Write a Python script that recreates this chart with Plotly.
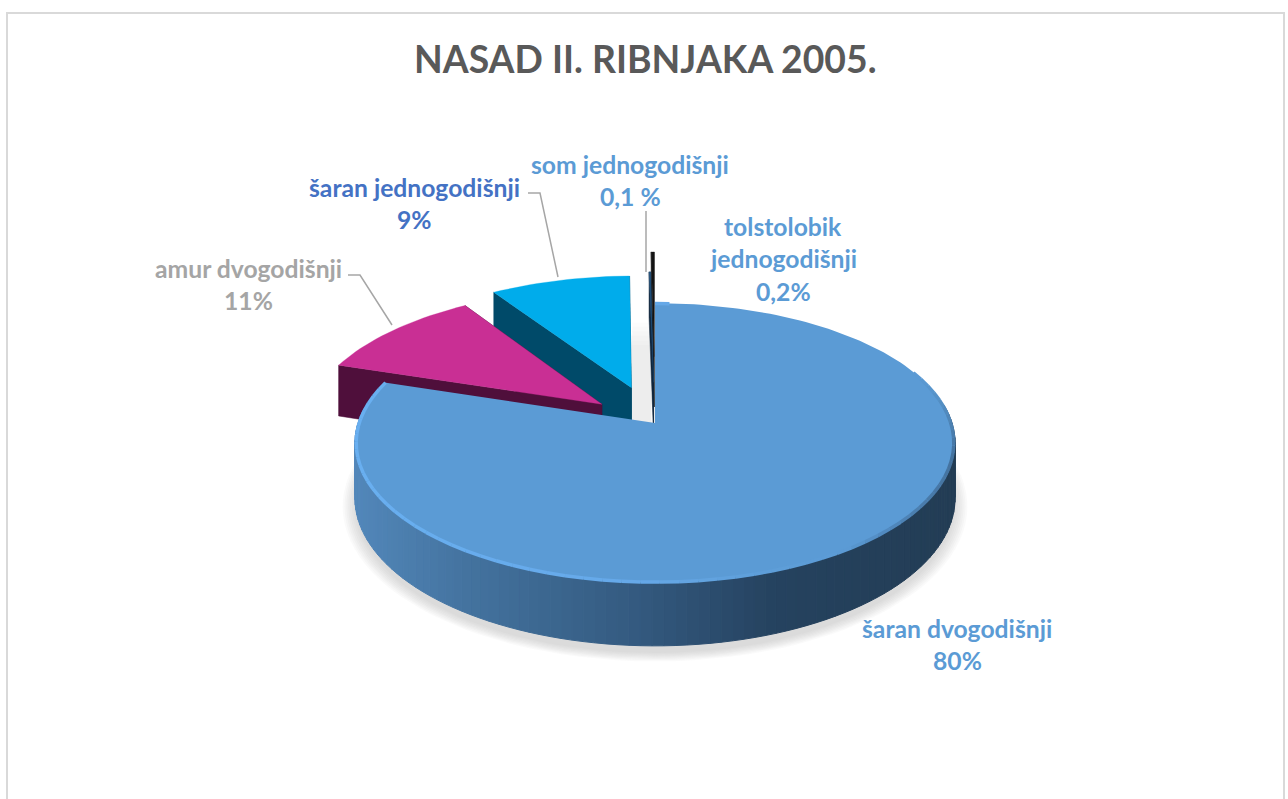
import math
import plotly.graph_objects as go

# data
categories = ['šaran dvogodišnji', 'amur dvogodišnji', 'šaran jednogodišnji', 'som jednogodišnji', 'tolstolobik jednogodišnji']
values = [80, 10.8, 8.9, 0.1, 0.2]
value_labels = ['80%', '11%', '9%', '0,1 %', '0,2%']
title_text = 'NASAD II. RIBNJAKA 2005.'

explode = [0, 0.23, 0.28, 0.31, 0.52]
top_colors = ['#5B9BD5', '#C92F94', '#00ACEB', '#1F4E79', '#141414']
side_colors = ['#2B4C6E', '#4F0F3B', '#004A69', '#10263D', '#1A1A1A']
label_colors = ['#5B9BD5', '#A5A5A5', '#4472C4', '#5B9BD5', '#5B9BD5']

# label lines: category split for display, centre x, first line y
label_lines = [['šaran dvogodišnji'], ['amur dvogodišnji'], ['šaran jednogodišnji'], ['som jednogodišnji'], ['tolstolobik', 'jednogodišnji']]
label_x = [957, 248, 414, 630, 783]
label_y = [628, 268, 187, 164, 226]
line_step = 32.5

leaders = [
    ([348, 360, 392], [275, 275, 325]),
    ([528, 540, 558], [193, 193, 277]),
    ([646, 646], [211, 272]),
]

# pie projection (perspective tilt), all in page pixels
CX, CY = 655, 423
A, B, H, K = 297, 137, 54, 0.143


def project(x, y, z=0.0):
    d = 1 - K * y
    return CX + A * x / d, CY + (B * y + H * z) / d


def wedge_xy(ox, oy, t, r=1.0):
    return ox + r * math.sin(t), oy - r * math.cos(t)


def hex_rgb(c):
    return [int(c[i:i + 2], 16) for i in (1, 3, 5)]


def mix(ca, cb, f):
    ra, rb = hex_rgb(ca), hex_rgb(cb)
    return '#%02X%02X%02X' % tuple(round(ra[i] + (rb[i] - ra[i]) * f) for i in range(3))


def lerp_stops(stops, v):
    if v <= stops[0][0]:
        return stops[0][1]
    for (a, ca), (b, cb) in zip(stops, stops[1:]):
        if v <= b:
            return mix(ca, cb, (v - a) / (b - a))
    return stops[-1][1]


fig = go.Figure()


def poly(points, color, line=0.0):
    fig.add_trace(go.Scatter(x=[p[0] for p in points] + [points[0][0]], y=[p[1] for p in points] + [points[0][1]],
                             mode='lines', fill='toself', fillcolor=color,
                             line=dict(color=color, width=line), hoverinfo='skip', showlegend=False))


total = sum(values)
angles = []
run = 0
for v in values:
    angles.append((run / total * 2 * math.pi, (run + v) / total * 2 * math.pi))
    run += v

# soft shadows under the big slice
full = [2 * math.pi * i / 120 for i in range(120)]
for s in range(8):
    grow = 1.04 - s * 0.006
    poly([project(math.sin(t) * grow, -math.cos(t) * grow, 1.12) for t in full], 'rgba(150,150,150,0.05)')

# keep that shadow out of the gap behind the thin slices
poly([project(math.sin(t), -math.cos(t)) for t in full], 'white')

# thin slice shadow in the gap, fading upwards
for s in range(6):
    top = -0.82 + s * 0.04
    poly([project(-0.085, -0.08, 0.3), project(-0.085, top, 0), project(-0.012, top, 0), project(-0.012, -0.02, 0.2)],
         'rgba(170,170,170,0.035)')


def draw_exploded(i):
    t0, t1 = angles[i]
    mid = (t0 + t1) / 2
    ox, oy = explode[i] * math.sin(mid), -explode[i] * math.cos(mid)
    n = max(2, int((t1 - t0) / 0.03))
    rim = [wedge_xy(ox, oy, t0 + (t1 - t0) * j / n) for j in range(n + 1)]
    a, c0, c1 = (ox, oy), rim[0], rim[-1]
    for e0, e1 in ((a, c0), (a, c1)):
        poly([project(*e0), project(*e1), project(*e1, 1), project(*e0, 1)], side_colors[i], 0.5)
    poly([project(*a)] + [project(*p) for p in rim], top_colors[i], 0.3)


for i in (4, 3, 2, 1):
    draw_exploded(i)

# big slice: side with left to right shading, then the top face
t0, t1 = angles[0]
side_stops = [(356, '#5287BA'), (470, '#44739F'), (640, '#345A80'), (780, '#25425F'), (955, '#233D55')]
n = 150
for j in range(n):
    a0 = t0 + (t1 - t0) * j / n
    a1 = t0 + (t1 - t0) * (j + 1) / n
    p0, p1 = wedge_xy(0, 0, a0), wedge_xy(0, 0, a1)
    if p0[1] < -0.1 and p1[1] < -0.1:
        continue
    mx = project(*p0)[0]
    poly([project(*p0), project(*p1), project(*p1, 1), project(*p0, 1)], lerp_stops(side_stops, mx), 1)

n = 200
rim = [wedge_xy(0, 0, t0 + (t1 - t0) * j / n) for j in range(n + 1)]
poly([project(0, 0)] + [project(*p) for p in rim], top_colors[0])

# bevel round the front edge of the top face: light band on the left, soft dark on the right
edge_stops = [(356, '#69AFF0'), (640, '#66A9E9'), (760, '#5F9FDA'), (850, '#5B9BD5'), (900, '#4F86BA'), (955, '#44729E')]
n = 90
for j in range(n):
    a0 = t0 + (t1 - t0) * j / n
    a1 = t0 + (t1 - t0) * (j + 1) / n
    p0, p1 = wedge_xy(0, 0, a0, 0.996), wedge_xy(0, 0, a1, 0.996)
    if p0[1] < -0.4 and math.sin(a0) > 0:
        continue
    q0, q1 = project(*p0), project(*p1)
    color = lerp_stops(edge_stops, q0[0])
    if math.sin(a0) > 0:
        # fade in on the right so the dark edge has no hard start
        color = mix(top_colors[0], color, min(1, (p0[1] + 0.4) / 0.6))
    fig.add_trace(go.Scatter(x=[q0[0], q1[0]], y=[q0[1], q1[1]], mode='lines',
                             line=dict(color=color, width=3.5),
                             hoverinfo='skip', showlegend=False))

for lx, ly in leaders:
    fig.add_trace(go.Scatter(x=lx, y=ly, mode='lines', line=dict(color='#A6A6A6', width=1.5),
                             hoverinfo='skip', showlegend=False))

for i in range(len(categories)):
    lines = label_lines[i] + [value_labels[i]]
    for k, txt in enumerate(lines):
        fig.add_annotation(x=label_x[i], y=label_y[i] + k * line_step, text='<b>%s</b>' % txt, showarrow=False,
                           xanchor='center', yanchor='middle',
                           font=dict(family='Lato', size=24.7, color=label_colors[i]))

fig.update_layout(
    width=1288, height=799,
    margin=dict(l=0, r=0, t=0, b=0),
    paper_bgcolor='white', plot_bgcolor='white',
    showlegend=False,
    title=dict(text='<b>%s</b>' % title_text, x=0.501, y=0.925, xanchor='center', yanchor='middle',
               font=dict(family='Lato', size=37.3, color='#595959')),
    xaxis=dict(range=[0, 1288], visible=False, fixedrange=True),
    yaxis=dict(range=[799, 0], visible=False, fixedrange=True),
    shapes=[dict(type='rect', x0=7, y0=13, x1=1284, y1=830, line=dict(color='#D9D9D9', width=2), layer='below')],
)

# the page's default body margin would push the figure off by 8px
fig.write_html("out.html", config={'displayModeBar': False},
               post_script="document.body.style.margin='0';document.body.style.overflow='hidden';")
